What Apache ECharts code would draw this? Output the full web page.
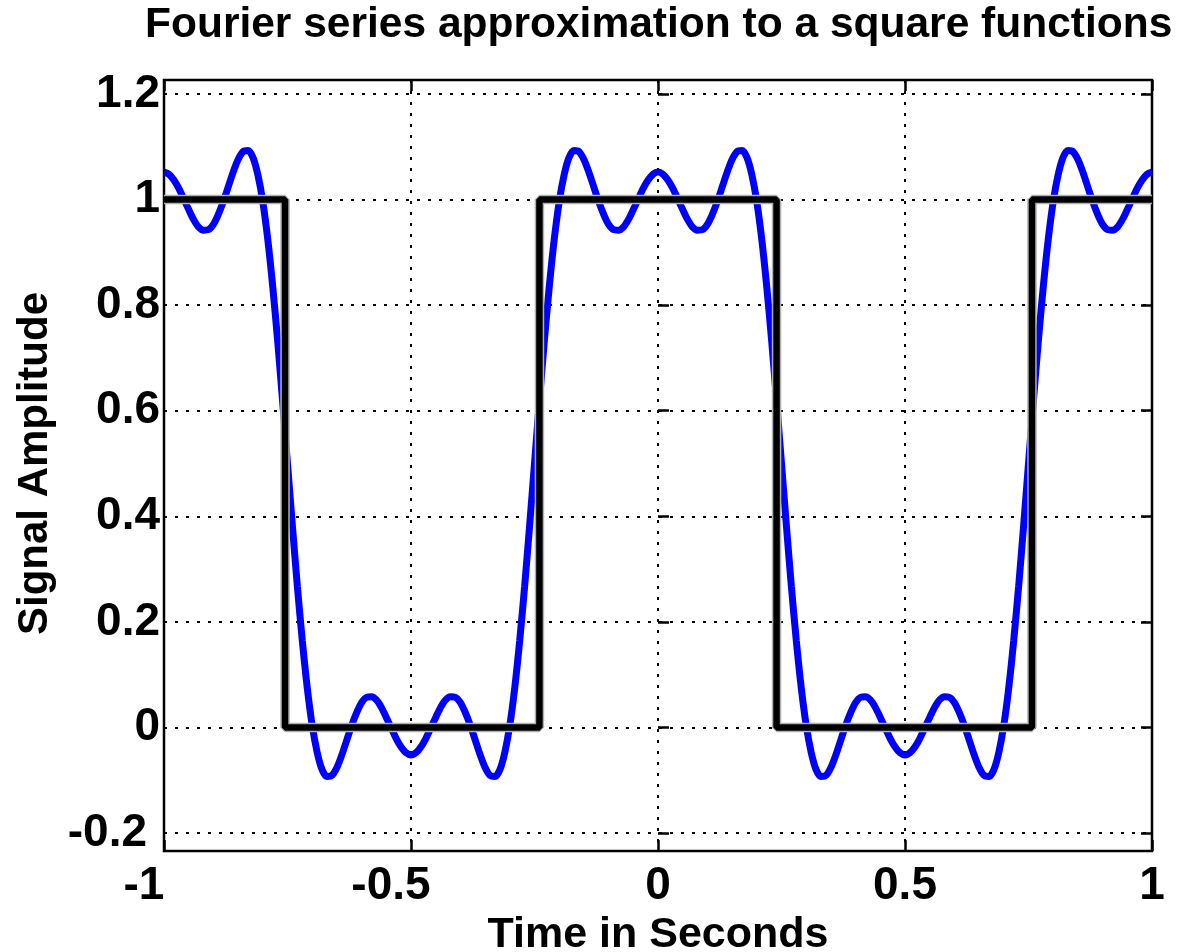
<!DOCTYPE html>
<html>
<head>
<meta charset="utf-8">
<title>Fourier series approximation to a square functions</title>
<script src="https://cdn.jsdelivr.net/npm/echarts@6/dist/echarts.min.js"></script>
<style>
html, body { margin: 0; padding: 0; background: #fff; }
#chart { width: 1178px; height: 952px; }
</style>
</head>
<body>
<div id="chart"></div>
<script>
// values
var timeSec = [
    -1, -0.99, -0.98, -0.97, -0.96, -0.95, -0.94, -0.93, -0.92, -0.91,
    -0.9, -0.89, -0.88, -0.87, -0.86, -0.85, -0.84, -0.83, -0.82, -0.81,
    -0.8, -0.79, -0.78, -0.77, -0.76, -0.75, -0.74, -0.73, -0.72, -0.71,
    -0.7, -0.69, -0.68, -0.67, -0.66, -0.65, -0.64, -0.63, -0.62, -0.61,
    -0.6, -0.59, -0.58, -0.57, -0.56, -0.55, -0.54, -0.53, -0.52, -0.51,
    -0.5, -0.49, -0.48, -0.47, -0.46, -0.45, -0.44, -0.43, -0.42, -0.41,
    -0.4, -0.39, -0.38, -0.37, -0.36, -0.35, -0.34, -0.33, -0.32, -0.31,
    -0.3, -0.29, -0.28, -0.27, -0.26, -0.25, -0.24, -0.23, -0.22, -0.21,
    -0.2, -0.19, -0.18, -0.17, -0.16, -0.15, -0.14, -0.13, -0.12, -0.11,
    -0.1, -0.09, -0.08, -0.07, -0.06, -0.05, -0.04, -0.03, -0.02, -0.01,
    0, 0.01, 0.02, 0.03, 0.04, 0.05, 0.06, 0.07, 0.08, 0.09,
    0.1, 0.11, 0.12, 0.13, 0.14, 0.15, 0.16, 0.17, 0.18, 0.19,
    0.2, 0.21, 0.22, 0.23, 0.24, 0.25, 0.26, 0.27, 0.28, 0.29,
    0.3, 0.31, 0.32, 0.33, 0.34, 0.35, 0.36, 0.37, 0.38, 0.39,
    0.4, 0.41, 0.42, 0.43, 0.44, 0.45, 0.46, 0.47, 0.48, 0.49,
    0.5, 0.51, 0.52, 0.53, 0.54, 0.55, 0.56, 0.57, 0.58, 0.59,
    0.6, 0.61, 0.62, 0.63, 0.64, 0.65, 0.66, 0.67, 0.68, 0.69,
    0.7, 0.71, 0.72, 0.73, 0.74, 0.75, 0.76, 0.77, 0.78, 0.79,
    0.8, 0.81, 0.82, 0.83, 0.84, 0.85, 0.86, 0.87, 0.88, 0.89,
    0.9, 0.91, 0.92, 0.93, 0.94, 0.95, 0.96, 0.97, 0.98, 0.99, 1
];
var fourierAmp = [
    1.052, 1.048, 1.037, 1.021, 1.001, 0.981, 0.962, 0.948, 0.942, 0.943,
    0.953, 0.972, 0.996, 1.024, 1.052, 1.076, 1.091, 1.093, 1.080, 1.047,
    0.996, 0.925, 0.836, 0.733, 0.619, 0.500, 0.381, 0.267, 0.164, 0.075,
    0.004, -0.047, -0.080, -0.093, -0.091, -0.076, -0.052, -0.024, 0.004, 0.028,
    0.047, 0.057, 0.058, 0.052, 0.038, 0.019, -0.001, -0.021, -0.037, -0.048,
    -0.052, -0.048, -0.037, -0.021, -0.001, 0.019, 0.038, 0.052, 0.058, 0.057,
    0.047, 0.028, 0.004, -0.024, -0.052, -0.076, -0.091, -0.093, -0.080, -0.047,
    0.004, 0.075, 0.164, 0.267, 0.381, 0.500, 0.619, 0.733, 0.836, 0.925,
    0.996, 1.047, 1.080, 1.093, 1.091, 1.076, 1.052, 1.024, 0.996, 0.972,
    0.953, 0.943, 0.942, 0.948, 0.962, 0.981, 1.001, 1.021, 1.037, 1.048,
    1.052, 1.048, 1.037, 1.021, 1.001, 0.981, 0.962, 0.948, 0.942, 0.943,
    0.953, 0.972, 0.996, 1.024, 1.052, 1.076, 1.091, 1.093, 1.080, 1.047,
    0.996, 0.925, 0.836, 0.733, 0.619, 0.500, 0.381, 0.267, 0.164, 0.075,
    0.004, -0.047, -0.080, -0.093, -0.091, -0.076, -0.052, -0.024, 0.004, 0.028,
    0.047, 0.057, 0.058, 0.052, 0.038, 0.019, -0.001, -0.021, -0.037, -0.048,
    -0.052, -0.048, -0.037, -0.021, -0.001, 0.019, 0.038, 0.052, 0.058, 0.057,
    0.047, 0.028, 0.004, -0.024, -0.052, -0.076, -0.091, -0.093, -0.080, -0.047,
    0.004, 0.075, 0.164, 0.267, 0.381, 0.500, 0.619, 0.733, 0.836, 0.925,
    0.996, 1.047, 1.080, 1.093, 1.091, 1.076, 1.052, 1.024, 0.996, 0.972,
    0.953, 0.943, 0.942, 0.948, 0.962, 0.981, 1.001, 1.021, 1.037, 1.048, 1.052
];
var squareTime = [-1, -0.755, -0.755, -0.24, -0.24, 0.24, 0.24, 0.757, 0.757, 1];
var squareAmp = [1, 1, 0, 0, 1, 1, 0, 0, 1, 1];
var xTicks = [-1, -0.5, 0, 0.5, 1];
var yTicks = [-0.2, 0, 0.2, 0.4, 0.6, 0.8, 1, 1.2];

function pairs(xs, ys) {
    return xs.map(function(x, i) { return [x, ys[i]]; });
}

var font = '"Liberation Sans", Arial, Helvetica, sans-serif';
var dotted = { color: '#000', width: 2, type: [3, 8] };
var tick = { show: true, inside: true, length: 11, lineStyle: { color: '#000', width: 2.5 } };
var numStyle = { fontSize: 46, fontWeight: 'bold', fontFamily: font, color: '#000' };

function tickText(v) {
    return (v < 0 ? '{neg|' : '{pos|') + v + '}';
}

var chart = echarts.init(document.getElementById('chart'));
var option = {
    animation: false,
    backgroundColor: '#fff',
    title: {
        text: 'Fourier series approximation to a square functions',
        left: 145,
        top: 4,
        padding: 0,
        textStyle: { fontSize: 42.5, fontWeight: 'bold', fontFamily: font, color: '#000' }
    },
    grid: [
        // data area, -0.2 .. 1.2
        { left: 164, right: 26, top: 94, bottom: 119, outerBoundsMode: 'none' },
        // axes box
        { left: 164, right: 26, top: 80, bottom: 101, outerBoundsMode: 'none',
          show: true, borderColor: '#000', borderWidth: 2.5, backgroundColor: 'transparent' }
    ],
    xAxis: [
        { gridIndex: 0, type: 'value', min: xTicks[0], max: xTicks[xTicks.length - 1], show: false },
        {
            gridIndex: 1, type: 'value', position: 'bottom',
            min: xTicks[0], max: xTicks[xTicks.length - 1], interval: xTicks[1] - xTicks[0],
            axisLine: { show: false },
            axisTick: tick,
            axisLabel: {
                margin: 12,
                formatter: tickText,
                rich: {
                    pos: numStyle,
                    neg: Object.assign({ padding: [0, 40, 0, 0] }, numStyle)
                }
            },
            splitLine: { show: true, lineStyle: dotted },
            name: 'Time in Seconds',
            nameLocation: 'middle',
            nameGap: 52,
            nameTextStyle: { fontSize: 43, fontWeight: 'bold', fontFamily: font, color: '#000' }
        },
        {
            gridIndex: 1, type: 'value', position: 'top',
            min: xTicks[0], max: xTicks[xTicks.length - 1], interval: xTicks[1] - xTicks[0],
            axisLine: { show: false },
            axisTick: tick,
            axisLabel: { show: false },
            splitLine: { show: false }
        }
    ],
    yAxis: [
        {
            gridIndex: 0, type: 'value', position: 'left',
            min: yTicks[0], max: yTicks[yTicks.length - 1], interval: 0.2,
            axisLine: { show: false },
            axisTick: tick,
            axisLabel: {
                margin: 4,
                formatter: tickText,
                rich: {
                    pos: numStyle,
                    neg: Object.assign({ padding: [0, 13, 0, 0] }, numStyle)
                }
            },
            splitLine: { show: true, lineStyle: dotted },
            name: 'Signal Amplitude',
            nameLocation: 'middle',
            nameGap: 104,
            nameTextStyle: { fontSize: 42, fontWeight: 'bold', fontFamily: font, color: '#000' }
        },
        {
            gridIndex: 0, type: 'value', position: 'right',
            min: yTicks[0], max: yTicks[yTicks.length - 1], interval: 0.2,
            axisLine: { show: false },
            axisTick: tick,
            axisLabel: { show: false },
            splitLine: { show: false }
        },
        { gridIndex: 1, type: 'value', min: 0, max: 1, show: false }
    ],
    series: [
        {
            name: 'Fourier',
            type: 'line',
            xAxisIndex: 0,
            yAxisIndex: 0,
            data: pairs(timeSec, fourierAmp),
            smooth: 0.3,
            showSymbol: false,
            silent: true,
            z: 3,
            lineStyle: { color: '#0000ff', width: 7 }
        },
        {
            name: 'SquareShade',
            type: 'line',
            xAxisIndex: 0,
            yAxisIndex: 0,
            data: pairs(squareTime, squareAmp),
            showSymbol: false,
            silent: true,
            z: 4,
            lineStyle: { color: '#b0b0b0', width: 9.5 }
        },
        {
            name: 'Square',
            type: 'line',
            xAxisIndex: 0,
            yAxisIndex: 0,
            data: pairs(squareTime, squareAmp),
            showSymbol: false,
            silent: true,
            z: 5,
            lineStyle: { color: '#000', width: 6.5 }
        }
    ]
};
chart.setOption(option);
</script>
</body>
</html>
